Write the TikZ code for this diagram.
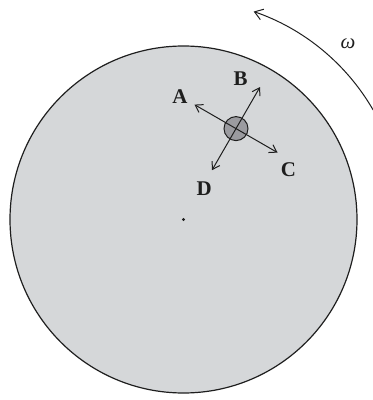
\documentclass[tikz,border=0pt]{standalone}
\usepackage{fontspec}
\setmainfont{Liberation Serif}
\usetikzlibrary{arrows.meta, calc}

\begin{document}
\begin{tikzpicture}[x=1bp, y=1bp]

% ---------------------------------------------------------------- colours
\definecolor{discfill}{RGB}{213,215,217}   % the turntable
\definecolor{puckfill}{RGB}{155,155,160}   % the small puck
\definecolor{inkcolor}{RGB}{30,30,30}

% ---------------------------------------------------------------- styles
\tikzset{
    disc/.style={circle, draw=inkcolor, line width=1.2pt, fill=discfill},
    puck/.style={
        circle, draw=inkcolor, line width=1pt, fill=puckfill,
        minimum size=24bp, inner sep=0pt,
    },
    dirarrow/.style={
        -{Straight Barb[length=7bp, width=9bp]}, line width=1pt, inkcolor,
    },
    dirlabel/.style={font=\fontsize{21}{21}\selectfont\bfseries, text=inkcolor},
}

\useasboundingbox (0,0) rectangle (373,400);

% ---------------------------------------------------------------- the disc
\node[disc, minimum size=347bp, inner sep=0pt] (disc) at (183.5,180.5) {};
\fill[inkcolor] (disc.center) circle (1.6bp);

% ---------------------------------------------------------------- rotation
\coordinate (spin) at (183.5,180.5);
\draw[-{Straight Barb[length=8bp, width=11bp]}, line width=1pt, inkcolor]
    ($(spin)+(30:219)$) arc[start angle=30, end angle=71, radius=221];
\node[font=\fontsize{21}{21}\selectfont\itshape, text=inkcolor] (omega)
    at (348,356) {ω};

% ---------------------------------------------------------------- the puck
\node[puck] (puck) at (236,271.4) {};
\coordinate (tipA) at ($(puck.center)+(150:48)$);
\coordinate (tipB) at ($(puck.center)+(60:48)$);
\coordinate (tipC) at ($(puck.center)+(-30:48)$);
\coordinate (tipD) at ($(puck.center)+(240:48)$);

\foreach \t in {A,B,C,D} {
    \draw[dirarrow] (puck.center) -- (tip\t);
}

\node[dirlabel] (labA) at (180,303) {A};
\node[dirlabel] (labB) at (240.7,321.5) {B};
\node[dirlabel] (labC) at (288.5,230) {C};
\node[dirlabel] (labD) at (204.3,211.5) {D};

\end{tikzpicture}
\end{document}
